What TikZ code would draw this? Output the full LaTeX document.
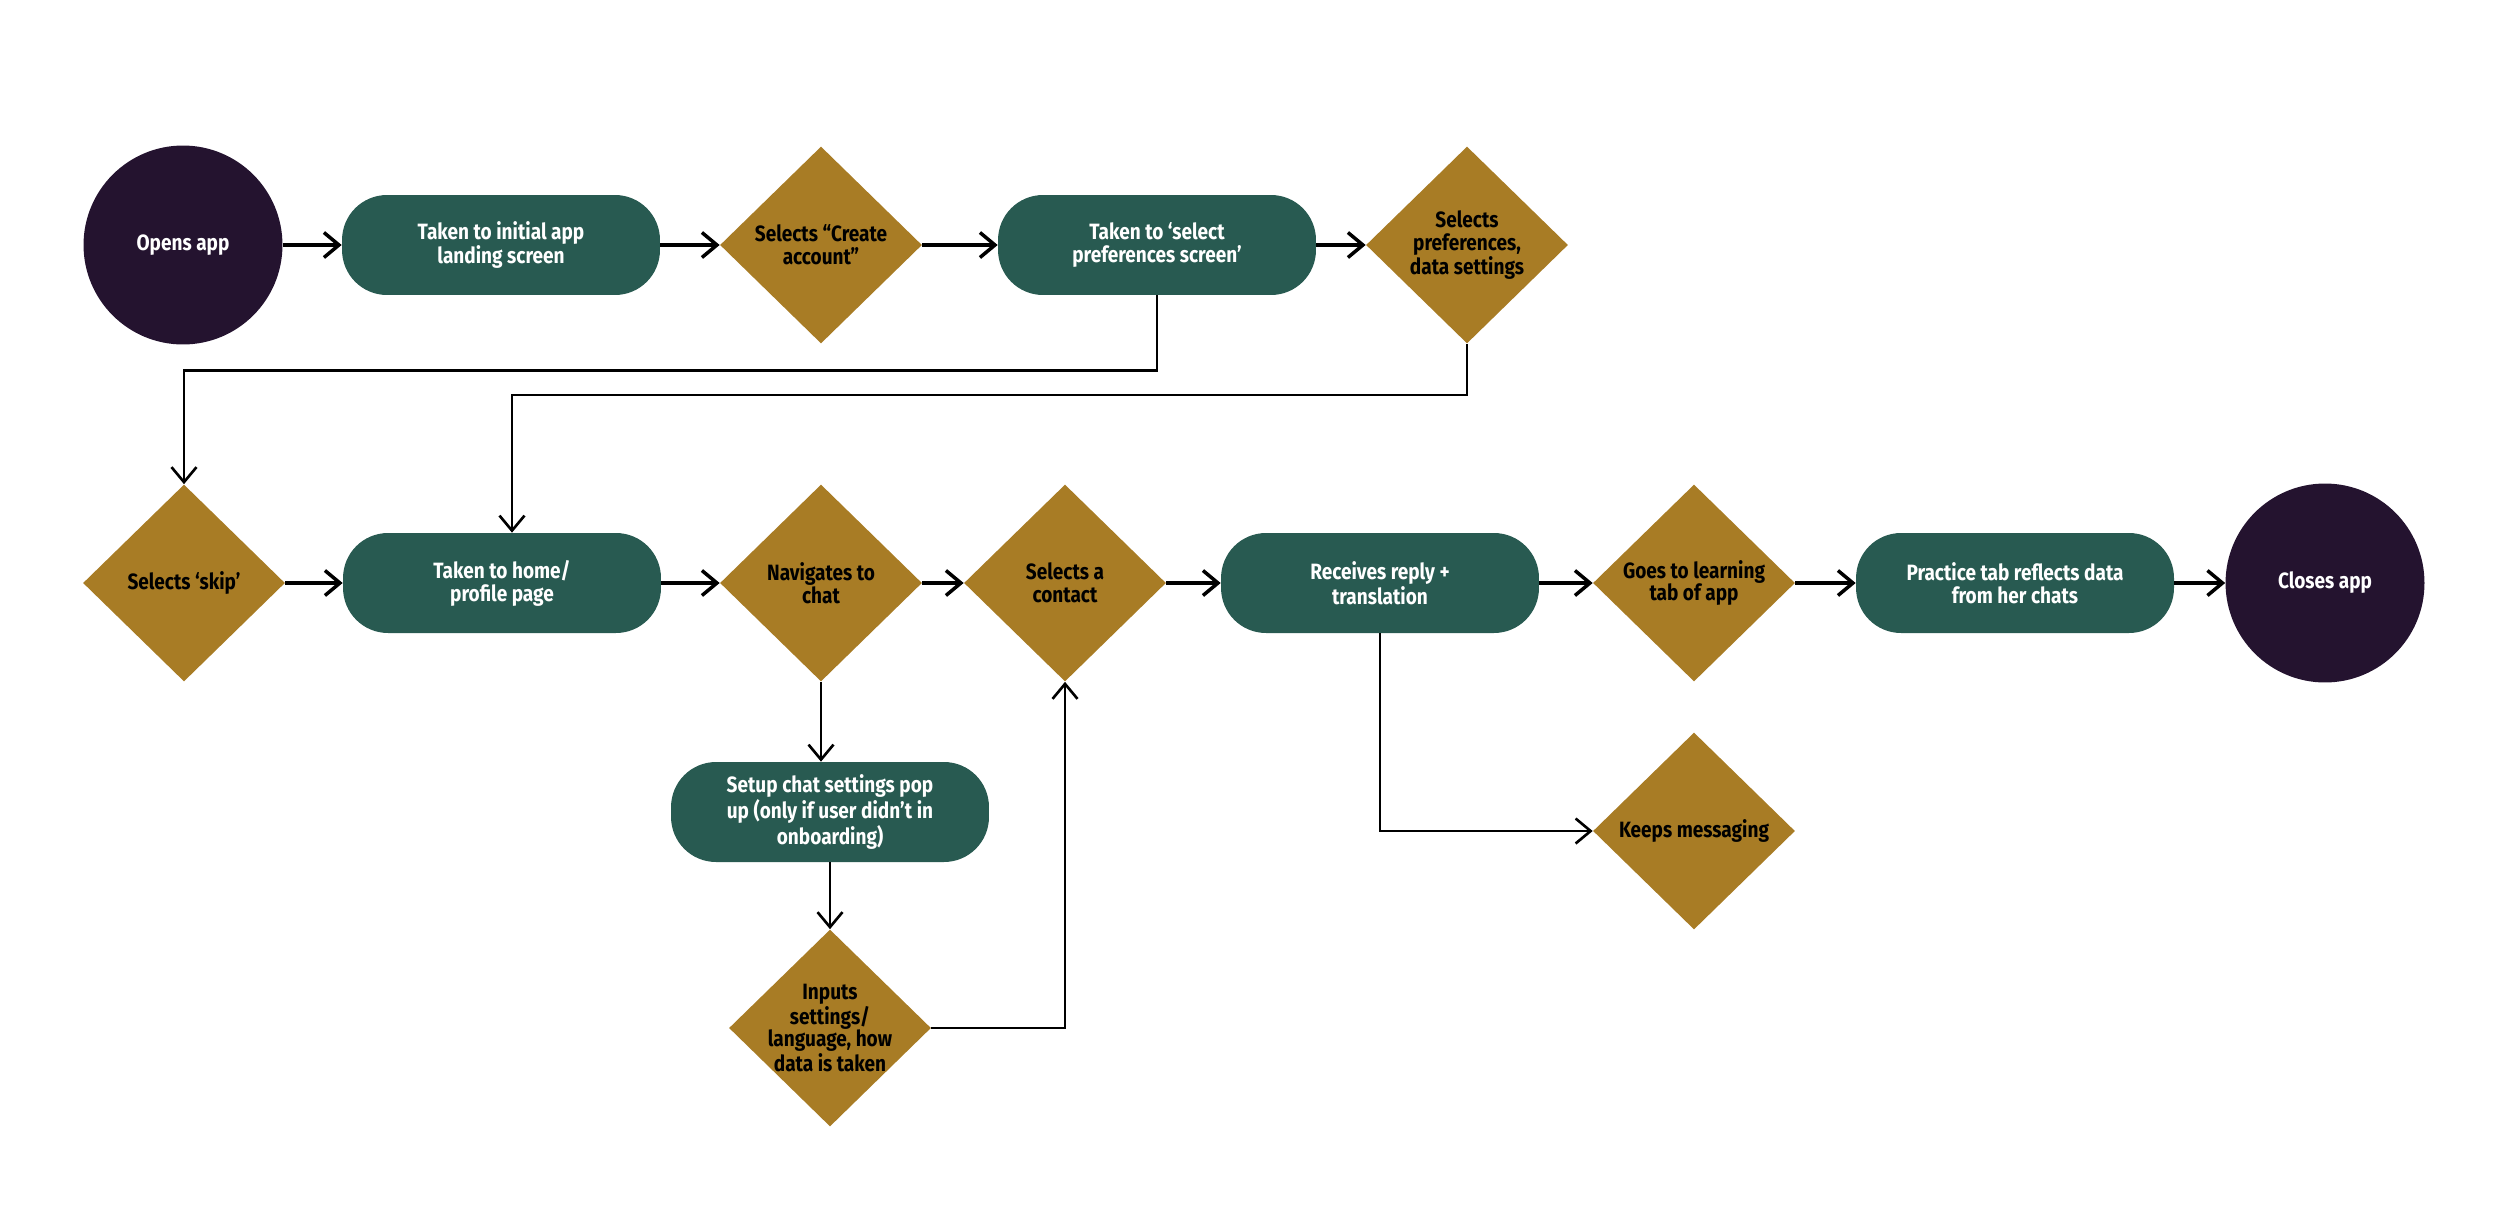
\documentclass[tikz,border=0pt]{standalone}
\usepackage{fontspec}
\setmainfont{Fira Sans}[FakeStretch=0.86]
\usepackage{tikz}
\usetikzlibrary{arrows.meta}
\usetikzlibrary{shapes.geometric}
\definecolor{pine}{HTML}{285A51}
\definecolor{ochre}{HTML}{A87C25}
\definecolor{plum}{HTML}{24132F}
\newcommand{\flowfont}{\bfseries\fontsize{12.6}{13}\selectfont}
\tikzset{
  stepbox/.style={fill=pine, text=white, rounded corners=.9cm, minimum width=6.36cm, minimum height=2cm, align=center, font=\flowfont},
  choice/.style={diamond, fill=ochre, text=black, inner sep=0pt, minimum width=4.04cm, minimum height=3.94cm, align=center, font=\flowfont},
  endpoint/.style={circle, fill=plum, text=white, minimum size=3.98cm, font=\flowfont},
  link/.style={->, line width=2pt},
  elbow/.style={->, line width=1.5pt},
}

\begin{document}
\begin{tikzpicture}[x=.02cm, y=-.02cm, >={Straight Barb[length=3mm,width=5mm]}]
\useasboundingbox (0,0) rectangle (2500,1210);
% top row
\node[endpoint] (open) at (183,245) {Opens app};
\node[stepbox] (initial) at (501,245) {Taken to initial app\\landing screen};
\node[choice] (create) at (821,245) {Selects “Create\\account”};
\node[stepbox] (prefscreen) at (1157,245) {Taken to ‘select\\preferences screen’};
\node[choice] (prefs) at (1467,245) {Selects\\preferences,\\data settings};
% middle row
\node[choice] (skip) at (184,583) {Selects ‘skip’};
\node[stepbox] (home) at (502,583) {Taken to home/\\profile page};
\node[choice] (chat) at (821,583) {Navigates to\\chat};
\node[choice] (contact) at (1065,583) {Selects a\\contact};
\node[stepbox] (reply) at (1380,583) {Receives reply +\\translation};
\node[choice] (learning) at (1694,583) {Goes to learning\\tab of app};
\node[stepbox] (practice) at (2015,583) {Practice tab reflects data\\from her chats};
\node[endpoint] (closes) at (2325,583) {Closes app};
% lower part
\node[stepbox] (setup) at (830,812) {Setup chat settings pop\\up (only if user didn’t in\\onboarding)};
\node[choice, inner sep=-5pt] (inputs) at (830,1028) {Inputs\\settings/\\language, how\\data is taken};
\node[choice] (keep) at (1694,831) {Keeps messaging};

\foreach \a/\b in {open/initial, initial/create, create/prefscreen, prefscreen/prefs,
  skip/home, home/chat, chat/contact, contact/reply, reply/learning, learning/practice, practice/closes}
  \draw[link] (\a) -- (\b);

\draw[elbow] (prefscreen.south) -- ++(0,75) -| (skip.north);
\draw[elbow] (prefs.south) -- ++(0,51) -| ([xshift=.2cm]home.north);
\draw[elbow] (chat.south) -- (chat.south |- setup.north);
\draw[elbow] (setup.south) -- (inputs.north);
\draw[elbow] (inputs.east) -| (contact.south);
\draw[elbow] (reply.south) |- (keep.west);
\end{tikzpicture}
\end{document}
